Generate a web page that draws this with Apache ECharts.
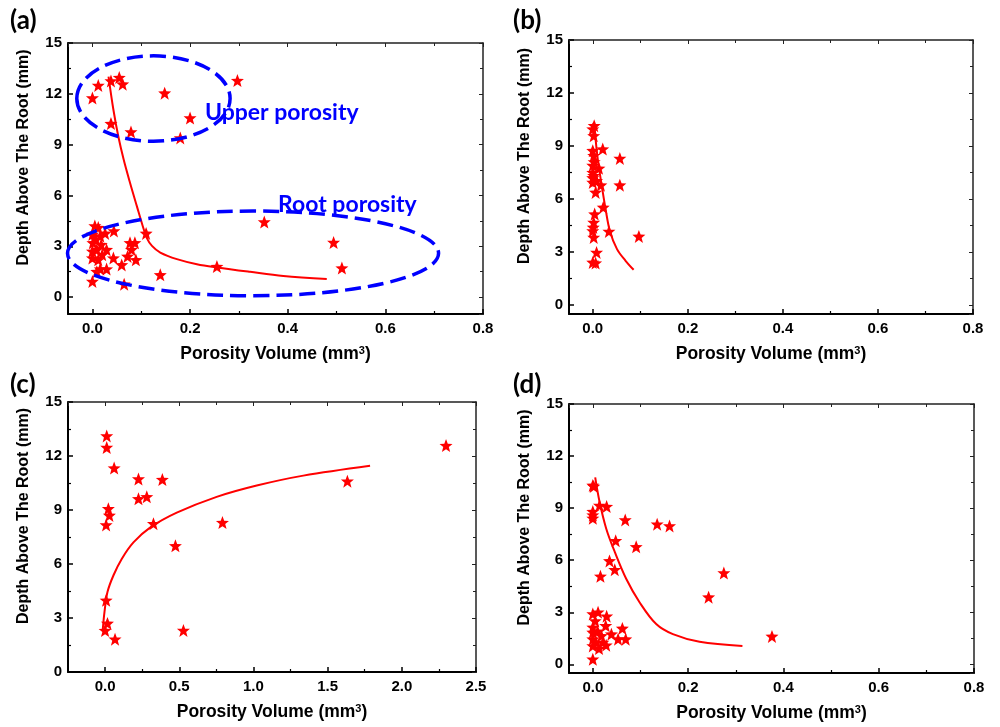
<!DOCTYPE html>
<html>
<head>
<meta charset="utf-8">
<script src="https://cdn.jsdelivr.net/npm/echarts@6/dist/echarts.min.js"></script>
<style>
  html, body { margin: 0; padding: 0; background: #fff; }
  #chart { width: 1000px; height: 727px; }
</style>
</head>
<body>
<div id="chart"></div>
<script>
// measured points [porosity volume, depth above root]
const aPoints = [
  [0, 11.75], [0.012, 12.49], [0.038, 12.76], [0.055, 12.96], [0.062, 12.57], [0.148, 12.04],
  [0.297, 12.78], [0.2, 10.57], [0.038, 10.24], [0.079, 9.75], [0.18, 9.39],
  [0.352, 4.43], [0.494, 3.22], [0.511, 1.71], [0.255, 1.8], [0.139, 1.31], [0.11, 3.76],
  [0.065, 0.76], [0, 0.92],
  [0.005, 4.2], [0.012, 4.1], [0, 3.7], [0.001, 3.2], [0.016, 3.6], [0.026, 3.76], [0.044, 3.9],
  [0, 2.7], [0.009, 2.8], [0.029, 2.8], [0, 2.3], [0.012, 2.2], [0.043, 2.3], [0.072, 2.4],
  [0.06, 1.9], [0.077, 3.2], [0.087, 3.2], [0.08, 2.8], [0.089, 2.2], [0.016, 1.65],
  [0.029, 1.65], [0.009, 1.5], [0.007, 3.4], [0.018, 3.1], [0.02, 2.5]
];
const aFit = [
  [0.033, 13.02], [0.043, 11.06], [0.053, 9.49], [0.064, 8.12], [0.077, 6.75], [0.091, 5.37],
  [0.103, 4.2], [0.111, 3.51], [0.122, 3.02], [0.139, 2.63], [0.173, 2.24], [0.214, 1.94],
  [0.255, 1.75], [0.323, 1.49], [0.391, 1.25], [0.48, 1.06]
];
const bPoints = [
  [0, 9.96], [0.003, 10.15], [0.002, 9.58], [0, 8.74], [0.002, 8.45], [0.021, 8.83], [0.057, 8.3],
  [0, 7.9], [0.013, 7.74], [0.002, 7.32], [0, 7.5], [0, 6.94], [0.008, 7.04], [0.017, 6.79],
  [0.057, 6.79], [0.006, 6.38], [0.022, 5.53], [0.004, 5.15], [0.002, 4.68], [0, 4.2],
  [0.002, 3.83], [0.034, 4.17], [0.097, 3.89], [0.008, 2.98], [0, 2.42], [0.006, 2.38],
  [0.003, 8.1], [0, 7.2], [0.001, 4.4]
];
const bFit = [
  [0.004, 9.96], [0.0105, 8.26], [0.02, 6.57], [0.027, 5.43], [0.036, 4.2], [0.051, 3.17],
  [0.069, 2.51], [0.086, 2.0]
];
const cPoints = [
  [0.011, 13.11], [0.011, 12.47], [0.061, 11.33], [0.225, 10.72], [0.386, 10.69], [0.225, 9.62],
  [0.281, 9.73], [0.022, 9.07], [0.029, 8.7], [0.007, 8.17], [0.326, 8.24], [0.791, 8.3],
  [0.474, 7.01], [1.633, 10.6], [2.298, 12.58], [0.007, 3.98], [0.016, 2.7], [0, 2.3],
  [0.067, 1.82], [0.528, 2.31]
];
const cFit = [
  [-0.016, 2.33], [-0.004, 3.34], [0.016, 4.44], [0.056, 5.36], [0.112, 6.28], [0.191, 7.2],
  [0.303, 8.02], [0.483, 8.85], [0.752, 9.73], [1.022, 10.36], [1.336, 10.91], [1.786, 11.46]
];
const dPoints = [
  [0, 10.31], [0.002, 10.25], [0, 8.8], [0, 8.6], [0, 8.41], [0.014, 9.15], [0.029, 9.09],
  [0.068, 8.32], [0.135, 8.07], [0.161, 7.97], [0.048, 7.12], [0.091, 6.77], [0.035, 5.96],
  [0.046, 5.45], [0.016, 5.07], [0.275, 5.26], [0.243, 3.87], [0.376, 1.61],
  [0, 2.9], [0.011, 3.0], [0.029, 2.77], [0.027, 2.22], [0.062, 2.07], [0.039, 1.74],
  [0.053, 1.45], [0.069, 1.45], [0, 2.13], [0, 1.84], [0, 1.45], [0, 1.06], [0.007, 1.26],
  [0.018, 1.64], [0.028, 1.1], [0, 0.29], [0.013, 0.91], [0.021, 1.26], [0.005, 2.5], [0.01, 1.9]
];
const dFit = [
  [0.005, 10.77], [0.014, 9.38], [0.028, 7.83], [0.046, 6.48], [0.07, 4.93], [0.098, 3.58],
  [0.133, 2.32], [0.168, 1.74], [0.224, 1.3], [0.314, 1.06]
];
// annotation ellipses in panel (a): [centre x, centre y, half width, half height]
const regions = [[0.125, 11.72, 0.157, 2.52], [0.329, 2.58, 0.38, 2.5]];
const regionNames = ['Upper porosity', 'Root porosity'];
const panelLabels = ['(a)', '(b)', '(c)', '(d)'];
const xRanges = [[-0.05, 0.8], [-0.05, 0.8], [-0.25, 2.5], [-0.05, 0.8]];
const yRanges = [[-1, 15], [-0.5, 15], [0, 15], [-0.5, 15]];
const xTitle = 'Porosity Volume (mm{sup|3})';
const yTitle = 'Depth Above The Root (mm)';

const chart = echarts.init(document.getElementById('chart'));

const grids = [
  { left: 68, top: 43, width: 415, height: 271 },
  { left: 569, top: 40, width: 404, height: 274 },
  { left: 68, top: 402, width: 408, height: 270 },
  { left: 569, top: 404, width: 405, height: 269 }
];

const star = 'path://M12,0.5 L15.2,8.8 L24,9 L17.1,14.6 L19.6,23.4 L12,18.3 L4.4,23.4 L6.9,14.6 L0,9 L8.8,8.8 Z';
const font = 'Liberation Sans';

const xAxis = [];
const yAxis = [];
for (let i = 0; i < 4; i++) {
  xAxis.push({
    type: 'value', gridIndex: i, min: xRanges[i][0], max: xRanges[i][1], splitNumber: 5,
    name: xTitle, nameLocation: 'middle', nameGap: 31,
    nameTextStyle: {
      color: '#000', fontFamily: font, fontWeight: 'bold', fontSize: 17.5,
      rich: { sup: { fontFamily: font, fontWeight: 'bold', fontSize: 11, verticalAlign: 'top', padding: [0, 0, 8, 0] } }
    },
    axisLine: { onZero: false, lineStyle: { color: '#000', width: 2 } },
    axisTick: { inside: true, length: 5, lineStyle: { color: '#000', width: 1.5 } },
    minorTick: { show: true, splitNumber: 2, length: 3, lineStyle: { color: '#000', width: 1.2 } },
    axisLabel: {
      color: '#000', fontFamily: font, fontWeight: 'bold', fontSize: 15, margin: 7,
      showMinLabel: false, formatter: v => v.toFixed(1)
    },
    splitLine: { show: false }
  });
  yAxis.push({
    type: 'value', gridIndex: i, min: yRanges[i][0], max: yRanges[i][1], splitNumber: 5,
    name: yTitle, nameLocation: 'middle', nameGap: 36, nameRotate: 90,
    nameTextStyle: { color: '#000', fontFamily: font, fontWeight: 'bold', fontSize: 16, padding: [0, 0, 0, 42] },
    axisLine: { onZero: false, lineStyle: { color: '#000', width: 2 } },
    axisTick: { inside: true, length: 5, lineStyle: { color: '#000', width: 1.5 } },
    minorTick: { show: true, splitNumber: 2, length: 3, lineStyle: { color: '#000', width: 1.2 } },
    axisLabel: { color: '#000', fontFamily: font, fontWeight: 'bold', fontSize: 15, margin: 6, showMinLabel: i === 2 },
    splitLine: { show: false }
  });
}
// mirror axes on top and right
for (let i = 0; i < 4; i++) {
  xAxis.push({
    type: 'value', gridIndex: i, position: 'top', min: xRanges[i][0], max: xRanges[i][1], splitNumber: 5,
    axisLine: { onZero: false, lineStyle: { color: '#222', width: 1.5 } },
    axisTick: { inside: true, length: 4, lineStyle: { color: '#222' } },
    minorTick: { show: true, splitNumber: 2, length: 3, lineStyle: { color: '#222' } },
    axisLabel: { show: false }, splitLine: { show: false }
  });
  yAxis.push({
    type: 'value', gridIndex: i, position: 'right', min: yRanges[i][0], max: yRanges[i][1], splitNumber: 5,
    axisLine: { onZero: false, lineStyle: { color: '#222', width: 1.5 } },
    axisTick: { inside: true, length: 4, lineStyle: { color: '#222' } },
    minorTick: { show: true, splitNumber: 2, length: 3, lineStyle: { color: '#222' } },
    axisLabel: { show: false }, splitLine: { show: false }
  });
}

const pointSets = [aPoints, bPoints, cPoints, dPoints];
const fitSets = [aFit, bFit, cFit, dFit];
const series = [];
pointSets.forEach((pts, i) => {
  series.push({
    type: 'line', xAxisIndex: i, yAxisIndex: i, data: fitSets[i], smooth: 0.35,
    showSymbol: false, lineStyle: { color: '#ff0000', width: 2 }, z: 3
  });
  series.push({
    type: 'scatter', xAxisIndex: i, yAxisIndex: i, data: pts, symbol: star, symbolSize: 13,
    itemStyle: { color: '#ff0000', opacity: 1 }, z: 4
  });
});
series.push({
  type: 'custom', xAxisIndex: 0, yAxisIndex: 0, data: regions, clip: false, z: 5,
  renderItem: (params, api) => {
    const c = api.coord([api.value(0), api.value(1)]);
    const s = api.size([api.value(2), api.value(3)]);
    return {
      type: 'ellipse',
      shape: { cx: c[0], cy: c[1], rx: s[0], ry: s[1] },
      style: { fill: 'none', stroke: '#0000ff', lineWidth: 3.5, lineDash: [16, 7] }
    };
  }
});

const graphic = [
  { type: 'text', left: 205, top: 101, z: 10, style: { text: regionNames[0], fill: '#0000ff', font: 'bold 23px Lato' } },
  { type: 'text', left: 278, top: 193, z: 10, style: { text: regionNames[1], fill: '#0000ff', font: 'bold 23px Lato' } }
];
const labelPos = [[10, 8], [513, 8], [10, 372], [513, 372]];
panelLabels.forEach((t, i) => {
  graphic.push({ type: 'text', left: labelPos[i][0], top: labelPos[i][1], style: { text: t, fill: '#000', font: 'bold 26px Lato' } });
});

chart.setOption({
  animation: false,
  backgroundColor: '#fff',
  grid: grids,
  xAxis, yAxis, series, graphic
});
</script>
</body>
</html>
